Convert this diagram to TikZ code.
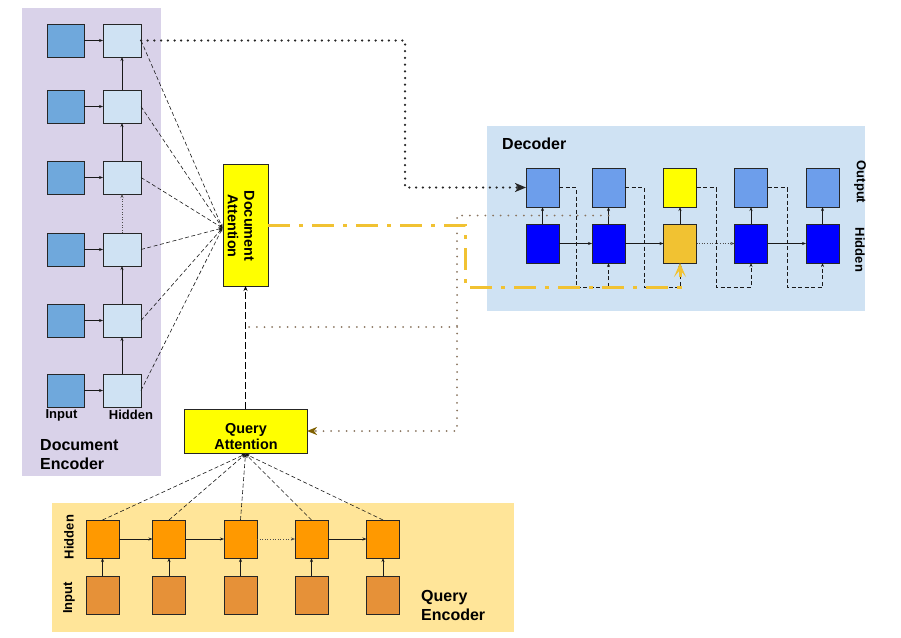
\documentclass[tikz,border=0pt]{standalone}
\usepackage{fontspec}
\setmainfont{Liberation Sans}
\usetikzlibrary{arrows.meta}
\definecolor{docbg}{HTML}{D9D2E9}
\definecolor{docin}{HTML}{6FA8DC}
\definecolor{lightblue}{HTML}{CFE2F3}
\definecolor{decout}{HTML}{6D9EEB}
\definecolor{dechid}{HTML}{0000FF}
\definecolor{gold}{HTML}{F1C232}
\definecolor{qbg}{HTML}{FFE599}
\definecolor{qhid}{HTML}{FF9900}
\definecolor{qin}{HTML}{E69138}
\definecolor{brownish}{HTML}{7F6000}
\definecolor{browndot}{HTML}{8A7560}
\definecolor{attyellow}{HTML}{FFFF00}
\begin{document}
\begin{tikzpicture}[x=1pt,y=-1pt,
  cell/.style={draw=black!85, line width=0.7pt, inner sep=0pt, outer sep=0pt},
  dcell/.style={cell, minimum width=37pt, minimum height=33pt},
  decell/.style={cell, minimum width=33pt, minimum height=39pt},
  qcell/.style={cell, minimum width=33pt, minimum height=38pt},
  arr/.style={-{Stealth[length=4pt,width=3pt]}, line width=0.6pt, black!90},
  darr/.style={arr, dash pattern=on 4pt off 2.5pt},
  dotarr/.style={arr, dotted, black!70},
  biglabel/.style={font=\fontsize{16}{19}\selectfont\bfseries, align=left, inner sep=0pt},
  smalllabel/.style={font=\fontsize{13}{15}\selectfont\bfseries, inner sep=0pt},
  attlabel/.style={font=\fontsize{14.4}{16.5}\selectfont\bfseries, align=center, inner sep=0pt}]
\useasboundingbox (0,0) rectangle (901,637);

% backgrounds
\fill[docbg] (22,8) rectangle (161,476);
\fill[lightblue] (487,126) rectangle (865,311);
\fill[qbg] (52,503) rectangle (514,632);

% document encoder
\foreach \i/\y in {1/40.5,2/106.5,3/177.5,4/249.5,5/320.5,6/390.5}{
  \node[dcell, fill=docin] (di\i) at (65.5,\y) {};
  \node[dcell, fill=lightblue, minimum width=38pt] (dh\i) at (122,\y) {};
  \draw[arr] (di\i) -- (dh\i);
}
\draw[arr] (dh6) -- (dh5);
\draw[arr] (dh5) -- (dh4);
\draw[dotarr] (dh4) -- (dh3);
\draw[arr] (dh3) -- (dh2);
\draw[arr] (dh2) -- (dh1);
\node[smalllabel] (lin) at (61.5,415) {Input};
\node[smalllabel] (lhid) at (131,415) {Hidden};
\node[biglabel, anchor=west] (lde) at (40,455) {Document\\Encoder};

% document attention
\node[cell, fill=attyellow, minimum width=45pt, minimum height=122pt] (da) at (245.5,225) {};
\node[attlabel, rotate=-90] (dat) at (241,226) {Document\\Attention};
\coordinate (daIn) at (222.5,228);
\foreach \i in {1,...,6}{
  \draw[darr] (dh\i.east) -- (daIn);
}

% query attention
\node[cell, fill=attyellow, minimum width=123pt, minimum height=44pt] (qa) at (245.5,431) {};
\node[attlabel] (qat) at (246,436.5) {Query\\Attention};
\coordinate (qaIn) at (245.5,454);
\draw[-{Stealth[length=5pt,width=4pt]}, line width=0.6pt, dash pattern=on 7pt off 3pt] (qa.north) -- (da.south);

% decoder
\node[biglabel, anchor=west] (ldec) at (502,144) {Decoder};
\foreach \i/\x in {1/542.5,2/608.5,3/680,4/751,5/822.5}{
  \node[decell, fill=decout] (do\i) at (\x,187.5) {};
  \node[decell, fill=dechid] (dd\i) at (\x,243.5) {};
}
\node[decell, fill=attyellow] at (do3) {};
\node[decell, fill=gold] at (dd3) {};
\foreach \i in {1,...,5}{ \draw[arr] (dd\i) -- (do\i); }
\draw[arr] (dd1) -- (dd2);
\draw[arr] (dd2) -- (dd3);
\draw[dotarr] (dd3) -- (dd4);
\draw[arr] (dd4) -- (dd5);
\foreach \i/\j/\x in {1/2/576,2/3/644,3/4/716,4/5/787}{
  \coordinate (sk\i) at (\x,287);
  \draw[darr] (do\i.east) -| (sk\i) -| (dd\j.south);
}
\node[smalllabel, rotate=-90] (lout) at (860,182) {Output};
\node[smalllabel, rotate=-90] (ldh) at (860,250) {Hidden};

% query encoder
\foreach \i/\x in {1/102.5,2/169,3/240.5,4/311.5,5/383}{
  \node[qcell, fill=qhid] (qh\i) at (\x,539) {};
  \node[qcell, fill=qin] (qi\i) at (\x,595) {};
  \draw[arr] (qi\i) -- (qh\i);
  \draw[darr] (qh\i.north) -- (qaIn);
}
\draw[arr] (qh1) -- (qh2);
\draw[arr] (qh2) -- (qh3);
\draw[dotarr] (qh3) -- (qh4);
\draw[arr] (qh4) -- (qh5);
\node[smalllabel, rotate=90] (lqh) at (69,537) {Hidden};
\node[smalllabel, rotate=90] (lqi) at (69,598) {Input};
\node[biglabel, anchor=west] (lqe) at (421,605) {Query\\Encoder};

% thick black dotted: encoder top -> decoder first output
\coordinate (bk) at (405,100);
\draw[line width=2.5pt, line cap=round, dash pattern=on 0pt off 6.7pt, black!85,
  -{Stealth[length=11pt,width=9pt,inset=3pt]}] (dh1.east) -| (bk) |- (do1.west);

% brown dotted feedback
\coordinate (bm) at (608.5,215.5);
\coordinate (bv) at (457,300);
\coordinate (bb) at (457,327);
\coordinate (bl) at (245.5,327);
\draw[line width=2pt, line cap=round, dash pattern=on 0pt off 7.7pt, browndot,
  -{Stealth[length=10pt,width=8pt,inset=3pt,color=brownish]}] (bm) -| (bv) |- (qa.east);
\draw[line width=2pt, line cap=round, dash pattern=on 0pt off 7.7pt, browndot] (bb) -- (bl);

% yellow dash-dot: document attention -> highlighted hidden state
\coordinate (yk) at (465,287);
\draw[gold, line width=3pt, dash pattern=on 22pt off 9pt on 4pt off 9pt,
  -{Stealth[length=14pt,width=12pt,inset=7pt]}] (da.east) -| (yk) -| (dd3.south);
\end{tikzpicture}
\end{document}
